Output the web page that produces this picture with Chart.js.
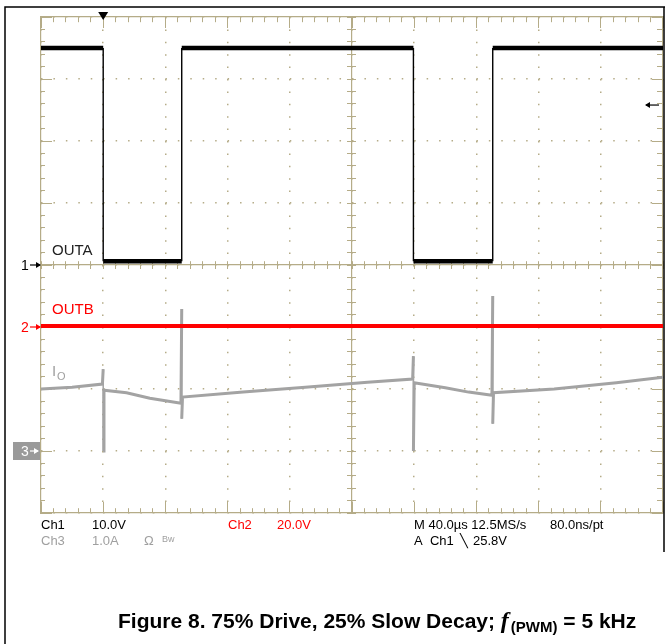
<!DOCTYPE html>
<html lang="en">
<head>
<meta charset="UTF-8">
<title>Figure 8. 75% Drive, 25% Slow Decay</title>
<script src="https://cdn.jsdelivr.net/npm/chart.js"></script>
<style>
  html, body { margin: 0; padding: 0; background: #fff; }
  canvas { display: block; }
</style>
</head>
<body>
<canvas id="scope" width="665" height="644"></canvas>
<script>
// time in microseconds, 40 us/div over 10 divisions
const outaTime  = [0, 40, 40, 90.5, 90.5, 239.5, 239.5, 290.5, 290.5, 400];
const outaVolts = [35, 35, 0.6, 0.6, 35, 35, 0.6, 0.6, 35, 35];

const outbTime  = [0, 400];
const outbVolts = [0.3, 0.3];

// output current, with the switching spikes
const ioTime = [0, 20, 39.5, 40, 40, 40.5, 55, 70, 90, 90.5, 90.5, 91, 130, 170, 210,
                239, 239.5, 239.5, 240, 260, 275, 290, 290.5, 290.5, 291, 330, 370, 400];
const ioAmps = [1.0, 1.03, 1.08, 1.32, 0.0, 0.98, 0.94, 0.85, 0.77, 2.29, 0.52, 0.87, 0.95, 1.03, 1.11,
                1.16, 1.53, 0.0, 1.10, 1.02, 0.95, 0.90, 2.5, 0.44, 0.94, 1.0, 1.10, 1.19];

const trigTime = 40;     // us
const trigLevel = 25.8;  // V on ch1

const gridColor = '#b5ac88';

function pts(xs, ys) { return xs.map((x, i) => ({ x: x, y: ys[i] })); }

// thin vertical edges, thick noisy flat parts
function edgeWidth(thin, thick) {
  return ctx => (ctx.p0.parsed.x === ctx.p1.parsed.x ? thin : thick);
}

function tickAxis(axis, pos, step, len, withBorder) {
  return {
    type: 'linear',
    axis: axis,
    position: pos,
    min: axis === 'x' ? 0 : -4,
    max: axis === 'x' ? 400 : 4,
    ticks: { display: false, stepSize: step, autoSkip: false, maxTicksLimit: 1000 },
    grid: { drawOnChartArea: false, drawTicks: true, tickLength: len, color: gridColor, lineWidth: 1 },
    border: { display: withBorder, color: gridColor, width: 1.2 }
  };
}

function arrow(c, x0, x1, y, color) {
  c.strokeStyle = color;
  c.fillStyle = color;
  c.lineWidth = 1.2;
  c.beginPath(); c.moveTo(x0, y); c.lineTo(x1, y); c.stroke();
  const d = x1 > x0 ? 1 : -1;
  c.beginPath();
  c.moveTo(x1 + d, y);
  c.lineTo(x1 - d * 4, y - 3);
  c.lineTo(x1 - d * 4, y + 3);
  c.closePath();
  c.fill();
}

const scopeDecor = {
  id: 'scopeDecor',
  afterDraw(chart) {
    const c = chart.ctx;
    const a = chart.chartArea;
    const s = chart.scales;
    const g1 = s.ya.getPixelForValue(0);
    const g2 = s.yb.getPixelForValue(0);
    const g3 = s.yc.getPixelForValue(0);
    c.save();

    // page frame
    c.strokeStyle = '#000';
    c.lineWidth = 1.5;
    c.beginPath();
    c.moveTo(665, 7); c.lineTo(5, 7); c.lineTo(5, 644);
    c.moveTo(664, 7); c.lineTo(664, 552);
    c.stroke();

    // trigger position marker
    const tx = s.x.getPixelForValue(trigTime);
    c.fillStyle = '#000';
    c.beginPath();
    c.moveTo(tx - 5, a.top - 5); c.lineTo(tx + 5, a.top - 5); c.lineTo(tx, a.top + 3);
    c.closePath(); c.fill();

    // trigger level marker
    arrow(c, a.right - 4, a.right - 17, s.ya.getPixelForValue(trigLevel), '#000');

    // channel ground markers
    c.font = '14px "Liberation Sans", Arial, sans-serif';
    c.textBaseline = 'alphabetic';
    c.fillStyle = '#000';
    c.fillText('1', 21, g1 + 5);
    arrow(c, 30, 40, g1, '#000');
    c.fillStyle = '#ff0000';
    c.fillText('2', 21, g2 + 5);
    arrow(c, 30, 40, g2, '#ff0000');
    c.fillStyle = '#9a9a9a';
    c.fillRect(13, g3 - 9, 27, 18);
    c.fillStyle = '#fff';
    c.fillText('3', 21, g3 + 5);
    arrow(c, 30, 38, g3, '#fff');

    // trace labels
    c.font = '15px "Liberation Sans", Arial, sans-serif';
    c.fillStyle = '#222';
    c.fillText('OUTA', a.left + 11, g1 - 10);
    c.fillStyle = '#ff0000';
    c.fillText('OUTB', a.left + 11, g2 - 13);
    c.fillStyle = '#a0a0a0';
    c.fillText('I', a.left + 11, g3 - 75);
    c.font = '11px "Liberation Sans", Arial, sans-serif';
    c.fillText('O', a.left + 16, g3 - 71);

    // scope readout
    const r1 = a.bottom + 16, r2 = a.bottom + 32;
    c.font = '13px "Liberation Sans", Arial, sans-serif';
    c.fillStyle = '#000';
    c.fillText('Ch1', 41, r1);
    c.fillText('10.0V', 92, r1);
    c.fillText('M 40.0\u00b5s 12.5MS/s', 414, r1);
    c.fillText('80.0ns/pt', 550, r1);
    c.fillText('A  Ch1', 414, r2);
    c.fillText('\u2572', 460, r2);
    c.fillText('25.8V', 473, r2);
    c.fillStyle = '#ff0000';
    c.fillText('Ch2', 228, r1);
    c.fillText('20.0V', 277, r1);
    c.fillStyle = '#a0a0a0';
    c.fillText('Ch3', 41, r2);
    c.fillText('1.0A', 92, r2);
    c.fillText('\u03a9', 144, r2);
    c.font = '9px "Liberation Sans", Arial, sans-serif';
    c.fillText('Bw', 162, r2 - 3);

    // caption
    const cy = 628;
    let cx = 118;
    const pieces = [
      ['Figure 8. 75% Drive, 25% Slow Decay; ', 'bold 21px "Liberation Sans", Arial, sans-serif', 0, 0],
      ['f', 'bold italic 24px "Liberation Serif", serif', 0, 2],
      ['(PWM)', 'bold 15px "Liberation Sans", Arial, sans-serif', 4, 0],
      [' = 5 kHz', 'bold 21px "Liberation Sans", Arial, sans-serif', 0, 0]
    ];
    c.fillStyle = '#000';
    for (const p of pieces) {
      c.font = p[1];
      c.fillText(p[0], cx, cy + p[2]);
      cx += c.measureText(p[0]).width + p[3];
    }
    c.restore();
  }
};

const ctx = document.getElementById('scope').getContext('2d');

new Chart(ctx, {
  type: 'line',
  data: {
    datasets: [
      {
        label: 'OUTA',
        data: pts(outaTime, outaVolts),
        yAxisID: 'ya',
        borderColor: '#000',
        borderWidth: 4.5,
        pointRadius: 0,
        segment: { borderWidth: edgeWidth(1.4, 4.5) }
      },
      {
        label: 'OUTB',
        data: pts(outbTime, outbVolts),
        yAxisID: 'yb',
        borderColor: '#ff0000',
        borderWidth: 4,
        pointRadius: 0
      },
      {
        label: 'IO',
        data: pts(ioTime, ioAmps),
        yAxisID: 'yc',
        borderColor: '#a3a3a3',
        borderWidth: 3,
        pointRadius: 0,
        segment: { borderWidth: edgeWidth(1.5, 3) }
      }
    ]
  },
  options: {
    responsive: false,
    animation: false,
    layout: { padding: { left: 41, top: 17, right: 2, bottom: 131 } },
    plugins: {
      legend: { display: false },
      tooltip: { enabled: false }
    },
    scales: {
      x: {
        type: 'linear', position: 'bottom', min: 0, max: 400,
        ticks: { display: false, stepSize: 40 },
        grid: { drawTicks: false, color: gridColor, lineWidth: 1.5 },
        border: { display: false, dash: [1.5, 10.9] }
      },
      y: {
        type: 'linear', position: 'left', min: -4, max: 4,
        ticks: { display: false, stepSize: 1 },
        grid: { drawTicks: false, color: gridColor, lineWidth: 1.5 },
        border: { display: false, dash: [1.5, 10.94] }
      },
      ya: { type: 'linear', display: false, min: -40, max: 40 },
      yb: { type: 'linear', display: false, min: -60, max: 100 },
      yc: { type: 'linear', display: false, min: -1, max: 7 },

      topMinor: tickAxis('x', { y: 4 }, 8, 5, true),
      topMajor: tickAxis('x', { y: 4 }, 40, 11, false),
      botMinor: tickAxis('x', { y: -4 }, 8, -5, true),
      botMajor: tickAxis('x', { y: -4 }, 40, -11, false),
      midXUp: tickAxis('x', { y: 0 }, 8, -4, true),
      midXDown: tickAxis('x', { y: 0 }, 8, 4, false),
      leftMinor: tickAxis('y', { x: 0 }, 0.2, -5, true),
      leftMajor: tickAxis('y', { x: 0 }, 1, -11, false),
      rightMinor: tickAxis('y', { x: 400 }, 0.2, 5, true),
      rightMajor: tickAxis('y', { x: 400 }, 1, 11, false),
      midYLeft: tickAxis('y', { x: 200 }, 0.2, 4, true),
      midYRight: tickAxis('y', { x: 200 }, 0.2, -4, false)
    }
  },
  plugins: [scopeDecor]
});
</script>
</body>
</html>
